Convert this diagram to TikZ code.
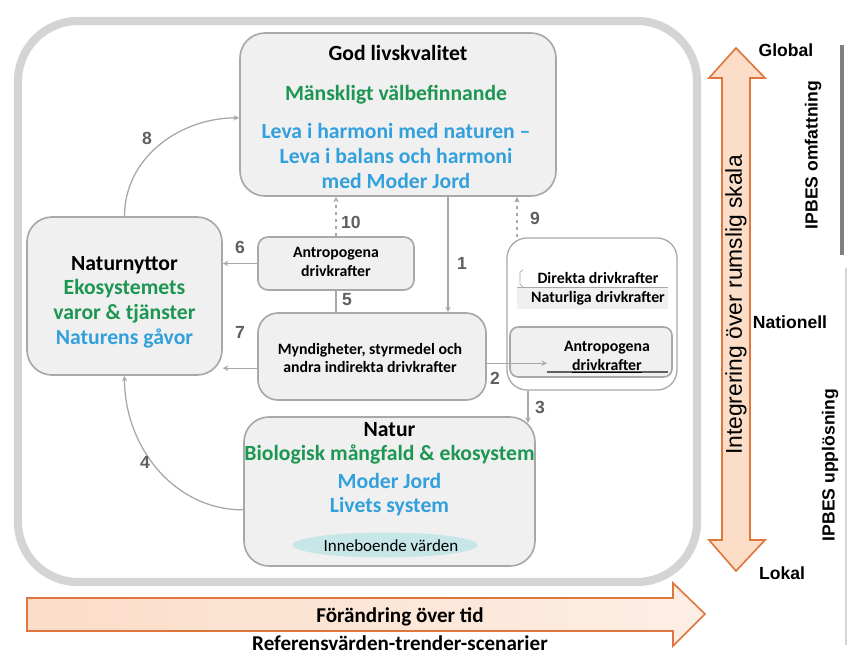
\documentclass[tikz,border=0pt]{standalone}
\usepackage{fontspec}
\setmainfont{Carlito}
\newfontfamily\arialfont{Liberation Sans}
\usepackage{tikz}
\usetikzlibrary{arrows,positioning,shapes.geometric}

\definecolor{boxgray}{RGB}{240,240,240}
\definecolor{linegray}{RGB}{168,168,168}
\definecolor{framegray}{RGB}{212,212,212}
\definecolor{numgray}{RGB}{95,95,95}
\definecolor{ipbgreen}{RGB}{28,150,82}
\definecolor{ipbblue}{RGB}{50,160,220}
\definecolor{orangeline}{RGB}{222,118,62}
\definecolor{peach}{RGB}{251,221,200}
\definecolor{peachlight}{RGB}{253,238,228}
\definecolor{teal}{RGB}{198,230,232}

\tikzset{
  box/.style={draw=linegray, fill=boxgray, line width=1.4pt, rounded corners=0.75cm, inner sep=0pt},
  conn/.style={draw=linegray, line width=1.1pt, -stealth},
  num/.style={font=\arialfont\bfseries\fontsize{15}{17}\selectfont, text=numgray},
  big/.style={font=\bfseries\fontsize{18.5}{21}\selectfont},
  small/.style={font=\bfseries\fontsize{13.5}{16}\selectfont},
  axis/.style={font=\arialfont\bfseries\fontsize{15}{17}\selectfont}
}

\begin{document}
\begin{tikzpicture}[x=0.03cm,y=-0.03cm]
\useasboundingbox (0,0) rectangle (856,658);
\draw[line width=7pt, draw=framegray, rounded corners=1.8cm] (18,21) rectangle (697,582);

\node[box, minimum width=9.48cm, minimum height=4.89cm] (god) at (398,114.5) {};
\node[big] (godt) at (398,53) {God livskvalitet};
\node[big, text=ipbgreen] (godg) at (396,95) {Mänskligt välbefinnande};
\node[big, text=ipbblue, align=center] (godb) at (396,156) {Leva i harmoni med naturen --\\Leva i balans och harmoni\\med Moder Jord};

\node[box, minimum width=5.85cm, minimum height=4.74cm] (nytta) at (124.5,296) {};
\node[big, align=center] (nyttat) at (124.5,302) {Naturnyttor\\\textcolor{ipbgreen}{Ekosystemets}\\\textcolor{ipbgreen}{varor \& tjänster}\\\textcolor{ipbblue}{Naturens gåvor}};

\node[box, rounded corners=0.3cm, minimum width=4.68cm, minimum height=1.59cm] (antro) at (336,263.5) {};
\node[small, align=center] (antrot) at (336,262) {Antropogena\\drivkrafter};

\node[box, rounded corners=0.6cm, minimum width=6.84cm, minimum height=2.61cm] (myn) at (372,356.5) {};
\node[small, align=center] (mynt) at (370,358) {Myndigheter, styrmedel och\\andra indirekta drivkrafter};

\node[box, minimum width=8.73cm, minimum height=4.47cm] (natur) at (389.5,491.5) {};
\node[big] (naturt) at (389.5,430) {Natur};
\node[big, text=ipbgreen] (naturg) at (389.5,454) {Biologisk mångfald \& ekosystem};
\node[big, text=ipbblue] (naturb1) at (389.5,481) {Moder Jord};
\node[big, text=ipbblue] (naturb2) at (389.5,507) {Livets system};
\node[ellipse, fill=teal, minimum width=5.55cm, minimum height=0.75cm, inner sep=0pt] (varde) at (385,545) {};
\node[font=\fontsize{14.5}{17}\selectfont] (vardet) at (391,546) {Inneboende värden};

\node[draw=linegray, line width=1.1pt, rounded corners=0.6cm, minimum width=5.1cm, minimum height=4.56cm] (direkt) at (592,314) {};
\fill[boxgray] (517,288) rectangle (668,309);
\draw[linegray, line width=0.8pt] (517,287) -- (668,287);
\draw[linegray, line width=0.6pt] (523,270) -- (520,272) -- (520,284) -- (523,287);
\node[small] (direktt) at (598,278) {Direkta drivkrafter};
\node[small] (naturlig) at (598,298) {Naturliga drivkrafter};
\node[box, rounded corners=0.25cm, minimum width=4.86cm, minimum height=1.5cm] (antro2) at (591,352) {};
\draw[numgray, line width=1.6pt] (547,372) -- (668,372);
\node[small, align=center] (antro2t) at (607,357) {Antropogena\\\underline{drivkrafter}};

\coordinate (x1) at (448,0);
\coordinate (x9) at (517,0);
\coordinate (x3) at (528,0);
\coordinate (x2) at (547,0);
\draw[conn] (god.south -| x1) -- (myn.north -| x1);
\draw[conn, dashed] (antro.north) -- (god.south -| antro.north);
\draw[conn, dashed] (direkt.north -| x9) -- (god.south -| x9);
\draw[conn] (antro.west) -- (antro.west -| nytta.east);
\draw[draw=linegray, line width=1.1pt] (antro.south) -- (myn.north -| antro.south);
\draw[conn] ([yshift=-0.35cm]myn.west) -- ([yshift=-0.35cm]myn.west -| nytta.east);
\draw[conn] ([yshift=-0.2cm]myn.east) -- ([yshift=-0.2cm]myn.east -| x2);
\draw[conn] (direkt.south -| x3) -- ([yshift=-0.2cm]natur.north -| x3);
\draw[conn] ([yshift=-0.55cm]natur.west) to[out=180,in=-90] (nytta.south);
\draw[conn] (nytta.north) to[out=90,in=180] ([yshift=-0.1cm]god.west);

\node[num] (n1) at (462,263) {1};
\node[num] (n2) at (495,378) {2};
\node[num] (n3) at (540,407) {3};
\node[num] (n4) at (145,462) {4};
\node[num] (n5) at (347,300) {5};
\node[num] (n6) at (240,247) {6};
\node[num] (n7) at (240,332) {7};
\node[num] (n8) at (147,138) {8};
\node[num] (n9) at (535,218) {9};
\node[num] (n10) at (351,222) {10};

\draw[orangeline, line width=1.4pt, fill=peach] (722,78) -- (709,78) -- (736,48) -- (765,78) -- (750,78) -- (750,540) -- (765,540) -- (736,571) -- (709,540) -- (722,540) -- cycle;
\node[font=\arialfont\fontsize{19.5}{22}\selectfont, rotate=90] (integ) at (736,305) {Integrering över rumslig skala};
\node[axis] (glob) at (786,50) {Global};
\node[axis] (nat) at (790,322) {Nationell};
\node[axis] (lok) at (782,573) {Lokal};
\draw[gray, line width=3pt] (842,45) -- (842,255);
\draw[framegray, line width=1.2pt] (846,268) -- (846,645);
\node[axis, rotate=90] (omf) at (813,155) {IPBES omfattning};
\node[axis, rotate=90] (uppl) at (830,465) {IPBES upplösning};

\draw[orangeline, line width=1.4pt, left color=peach, right color=peachlight] (27,598) -- (673,598) -- (673,583) -- (705,614) -- (673,646) -- (673,631) -- (27,631) -- cycle;
\node[font=\bfseries\fontsize{18}{21}\selectfont] (tid) at (400,617) {Förändring över tid};
\node[font=\bfseries\fontsize{18}{21}\selectfont] (ref) at (400,643) {Referensvärden-trender-scenarier};
\end{tikzpicture}
\end{document}
